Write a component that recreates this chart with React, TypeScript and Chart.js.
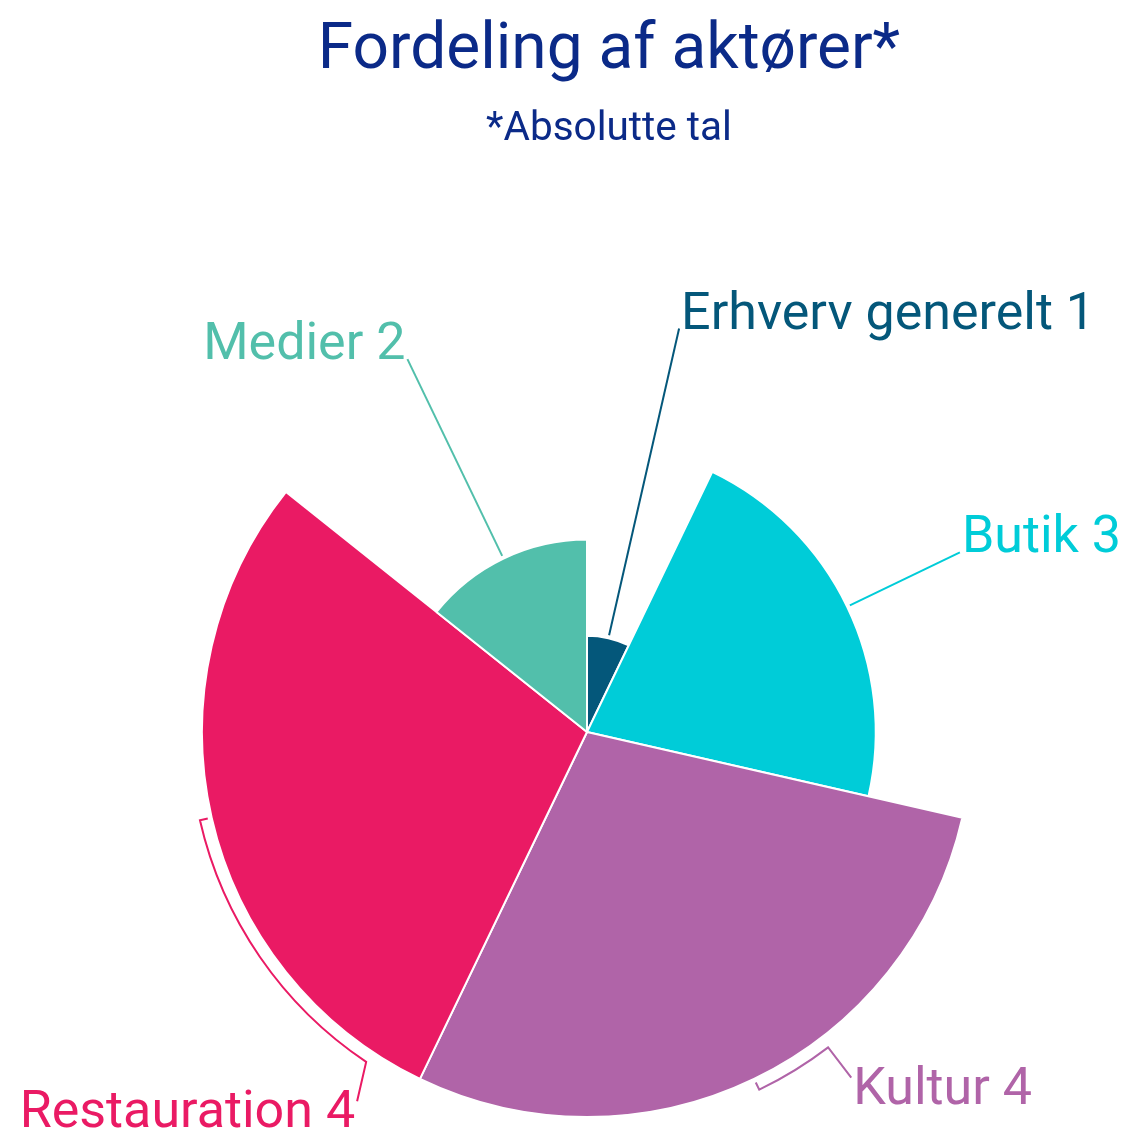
import React, { useEffect, useRef } from 'react';
import { Chart, registerables } from 'chart.js';

Chart.register(...registerables);

// ---- data ----
const categories = ['Erhverv generelt', 'Butik', 'Kultur', 'Restauration', 'Medier'];
const values = [1, 3, 4, 4, 2];
const colors = ['#04577a', '#00ccd8', '#b064a8', '#ea1a64', '#52bfab'];
const titleText = 'Fordeling af aktører*';
const subtitleText = '*Absolutte tal';

// ---- styling / layout (not data) ----
const FONT = 'Roboto, "Open Sans", sans-serif';
const TITLE_COLOR = '#0b2a88';
const LABEL_SIZE = 52;

type LabelLayout = { side: 'left' | 'right'; bentDeg?: number; endDeg?: number; hang?: boolean };
// bentDeg: angle (deg, clockwise from top) where a bent connector leaves the pie
const labelLayout: LabelLayout[] = [
  { side: 'right' },
  { side: 'right' },
  { side: 'right', bentDeg: 142.6, endDeg: 142.6, hang: true },
  { side: 'left', bentDeg: 213.8, endDeg: 211.9, hang: true },
  { side: 'left' },
];

const variableRadius = {
  id: 'variableRadius',
  afterDatasetUpdate(chart: any, args: any) {
    const meta = args.meta;
    const ds = chart.data.datasets[args.index].data as number[];
    const maxV = Math.max(...ds);
    const base = meta.controller.outerRadius;
    chart.$maxR = base;
    meta.data.forEach((arc: any, i: number) => {
      arc.outerRadius = (base * ds[i]) / maxV;
    });
  },
};

const titles = {
  id: 'titles',
  afterDraw(chart: any) {
    const ctx: CanvasRenderingContext2D = chart.ctx;
    ctx.save();
    ctx.fillStyle = TITLE_COLOR;
    ctx.textAlign = 'center';
    ctx.textBaseline = 'alphabetic';
    ctx.font = `64px ${FONT}`;
    ctx.fillText(titleText, 609, 68);
    ctx.font = `40.5px ${FONT}`;
    ctx.fillText(subtitleText, 609, 140);
    ctx.restore();
  },
};

const toRad = (deg: number) => ((deg - 90) * Math.PI) / 180;

const pieLabels = {
  id: 'pieLabels',
  afterDatasetsDraw(chart: any) {
    const meta = chart.getDatasetMeta(0);
    const ctx: CanvasRenderingContext2D = chart.ctx;
    const maxR: number = chart.$maxR;
    meta.data.forEach((arc: any, i: number) => {
      const { x, y, startAngle, endAngle, outerRadius } = arc.getProps(
        ['x', 'y', 'startAngle', 'endAngle', 'outerRadius'],
        true
      );
      const mid = (startAngle + endAngle) / 2;
      const pt = (a: number, r: number): [number, number] => [x + Math.cos(a) * r, y + Math.sin(a) * r];
      const lay = labelLayout[i];
      ctx.save();
      ctx.strokeStyle = colors[i];
      ctx.lineWidth = 2;
      ctx.beginPath();
      let end: [number, number];
      if (lay.bentDeg === undefined) {
        const a = pt(mid, outerRadius + 3);
        end = pt(mid, maxR * 1.075);
        ctx.moveTo(a[0], a[1]);
        ctx.lineTo(end[0], end[1]);
      } else {
        const ba = toRad(lay.bentDeg);
        const rArc = outerRadius + 12;
        const a = pt(mid, outerRadius + 4);
        const b = pt(mid, rArc);
        ctx.moveTo(a[0], a[1]);
        ctx.lineTo(b[0], b[1]);
        ctx.arc(x, y, rArc, mid, ba, ba < mid);
        end = pt(toRad(lay.endDeg ?? lay.bentDeg), maxR * 1.13);
        ctx.lineTo(end[0], end[1]);
      }
      ctx.stroke();
      ctx.fillStyle = colors[i];
      ctx.font = `${LABEL_SIZE}px ${FONT}`;
      ctx.textAlign = lay.side === 'right' ? 'left' : 'right';
      ctx.textBaseline = 'alphabetic';
      const tx = end[0] + (lay.side === 'right' ? 2 : -2);
      const ty = end[1] + (lay.hang ? 26 : 0);
      ctx.fillText(`${categories[i]} ${values[i]}`, tx, ty);
      ctx.restore();
    });
  },
};

export default function App() {
  const ref = useRef<HTMLCanvasElement | null>(null);
  useEffect(() => {
    if (!ref.current) return;
    const chart = new Chart(ref.current, {
      type: 'pie',
      data: {
        labels: categories,
        datasets: [
          {
            data: values,
            backgroundColor: colors,
            borderColor: '#ffffff',
            borderWidth: 2,
            hoverOffset: 0,
          },
        ],
      },
      options: {
        responsive: false,
        devicePixelRatio: 1,
        animation: false,
        layout: { padding: { top: 346, left: 201, right: 152, bottom: 14 } },
        plugins: {
          legend: { display: false },
          tooltip: { enabled: false },
          title: { display: false },
          subtitle: { display: false },
        },
      },
      plugins: [variableRadius, pieLabels, titles],
    } as any);
    return () => chart.destroy();
  }, []);
  return (
    <div style={{ position: 'absolute', left: 0, top: 0, width: 1125, height: 1132, background: '#fff' }}>
      <canvas ref={ref} width={1125} height={1132} />
    </div>
  );
}
